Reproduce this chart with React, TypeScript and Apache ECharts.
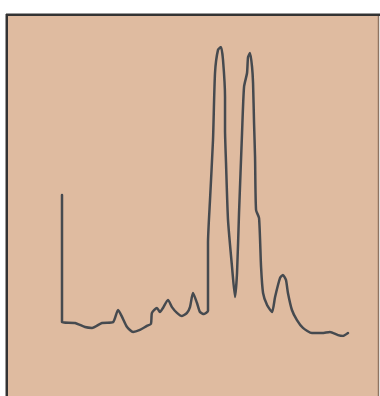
import React, { useEffect, useRef } from "react";
import * as echarts from "echarts";

// Retention time (min) and detector response (relative %)
const retentionTime: number[] = [
  0, 0, 0.91, 1.61, 2.1, 2.8, 3.57, 3.92, 4.2, 4.55, 4.97, 5.45, 5.94, 6.22, 6.29,
  6.64, 6.85, 7.06, 7.41, 7.69, 8.04, 8.39, 8.74, 8.95, 9.16, 9.44, 9.65, 9.93, 10.21,
  10.21, 10.35, 10.56, 10.7, 10.91, 11.12, 11.26, 11.4, 11.4, 11.47, 11.61, 11.89, 12.1,
  12.24, 12.38, 12.59, 12.73, 12.94, 13.01, 13.15, 13.29, 13.36, 13.43, 13.5, 13.57,
  13.78, 13.92, 14.06, 14.34, 14.69, 14.9, 15.25, 15.45, 15.66, 15.8, 16.08, 16.43,
  16.85, 17.48, 18.18, 18.74, 19.3, 19.65, 20.0,
];
const response: number[] = [
  48.8, 4.8, 4.5, 3.1, 2.8, 4.5, 4.8, 9.0, 6.6, 3.1, 1.4, 2.1, 3.5, 4.2, 8.0,
  9.7, 8.3, 9.7, 12.5, 10.0, 8.0, 6.9, 8.0, 10.0, 14.9, 11.4, 8.3, 7.6, 8.7,
  32.2, 47.1, 67.8, 91.0, 99.0, 100, 95.5, 82.7, 71.3, 59.9, 40.1, 23.9, 13.5,
  21.8, 42.6, 70.2, 86.2, 91.0, 96.5, 97.9, 93.1, 87.5, 73.7, 61.9, 43.6,
  40.8, 23.9, 14.9, 10.7, 8.3, 13.5, 20.1, 21.1, 19.4, 14.9, 9.0, 5.5,
  2.8, 1.0, 1.0, 1.4, 0.3, 0, 1.0,
];
const timeRange: number[] = [0, 20];
const responseRange: number[] = [0, 100];

export default function App() {
  const ref = useRef<HTMLDivElement>(null);
  useEffect(() => {
    if (!ref.current) return;
    const chart = echarts.init(ref.current, null, { renderer: "svg" });
    const data = retentionTime.map((t, i) => [t, response[i]]);
    chart.setOption({
      animation: false,
      backgroundColor: "#ffffff",
      graphic: [
        {
          type: "rect",
          z: -10,
          silent: true,
          shape: { x: 7, y: 15, width: 372, height: 400 },
          style: { fill: "#DFBBA0" },
        },
        {
          type: "line",
          z: -9,
          silent: true,
          shape: { x1: 6, y1: 13.5, x2: 380, y2: 13.5 },
          style: { stroke: "#9a9a9a", lineWidth: 1 },
        },
        {
          type: "line",
          z: -9,
          silent: true,
          shape: { x1: 5.5, y1: 14, x2: 5.5, y2: 396 },
          style: { stroke: "#9a9a9a", lineWidth: 1 },
        },
        {
          type: "line",
          z: -8,
          silent: true,
          shape: { x1: 6, y1: 15, x2: 380, y2: 15 },
          style: { stroke: "#333333", lineWidth: 2 },
        },
        {
          type: "line",
          z: -8,
          silent: true,
          shape: { x1: 7, y1: 14, x2: 7, y2: 396 },
          style: { stroke: "#333333", lineWidth: 2 },
        },
        {
          type: "line",
          z: -8,
          silent: true,
          shape: { x1: 378.5, y1: 16, x2: 378.5, y2: 396 },
          style: { stroke: "#8E7462", lineWidth: 1.5 },
        },
      ],
      grid: { left: 62, top: 47, width: 286, height: 289, containLabel: false },
      xAxis: {
        type: "value",
        min: timeRange[0],
        max: timeRange[1],
        show: false,
      },
      yAxis: {
        type: "value",
        min: responseRange[0],
        max: responseRange[1],
        show: false,
      },
      series: [
        {
          type: "line",
          data,
          showSymbol: false,
          smooth: 0.2,
          lineStyle: { color: "#464A4F", width: 2.5, join: "round", cap: "round" },
        },
      ],
    });
    return () => chart.dispose();
  }, []);
  return (
    <div
      ref={ref}
      style={{ position: "fixed", left: 0, top: 0, width: 380, height: 396 }}
    />
  );
}
